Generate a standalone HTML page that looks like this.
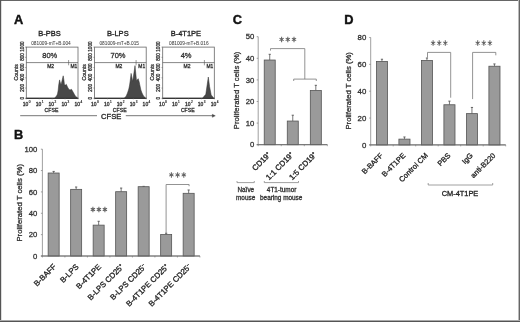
<!DOCTYPE html>
<html><head><meta charset="utf-8"><style>
html,body{margin:0;padding:0;background:#fff;}
body{width:520px;height:322px;overflow:hidden;position:relative;}
svg{position:absolute;left:0;top:0;will-change:transform;}
text{font-family:"Liberation Sans", sans-serif;}
</style></head><body>
<svg width="520" height="322" viewBox="0 0 520 322" font-family='"Liberation Sans", sans-serif'>
<rect x="0" y="0" width="520" height="322" fill="#fff"/>
<text x="13.9" y="23.6" font-size="12.8" text-anchor="start" font-weight="bold" fill="#111" stroke="#111" stroke-width="0.4">A</text>
<text x="14.0" y="139.2" font-size="12.8" text-anchor="start" font-weight="bold" fill="#111" stroke="#111" stroke-width="0.4">B</text>
<text x="232.7" y="23.9" font-size="12.8" text-anchor="start" font-weight="bold" fill="#111" stroke="#111" stroke-width="0.4">C</text>
<text x="344.3" y="23.9" font-size="12.8" text-anchor="start" font-weight="bold" fill="#111" stroke="#111" stroke-width="0.4">D</text>
<path d="M26.3,98.3 L55.1,98.3 L55.1,97.6 L56.5,96 L57.5,94 L58.2,90 L58.7,85 L59.2,82 L59.6,79.9 L60.4,83 L61,85 L62.2,80 L63.2,75.8 L63.9,80 L64.5,85 L65.5,85 L66.3,84.3 L67.5,87 L68.8,89.3 L70,90 L71.5,89.3 L72.5,91 L73.4,92.6 L74.6,94.8 L75.7,96.5 L77.3,97.6 L77.3,98.3 Z" stroke="#333" stroke-width="0.5" fill="#484848"/>
<rect x="26.3" y="47.1" width="51.7" height="51.199999999999996" fill="none" stroke="#666" stroke-width="0.8"/>
<line x1="25.900000000000002" y1="98.3" x2="78.4" y2="98.3" stroke="#222" stroke-width="0.9"/>
<line x1="26.3" y1="62.6" x2="78.0" y2="62.6" stroke="#555" stroke-width="0.7"/>
<line x1="68.6" y1="60.0" x2="68.6" y2="65.3" stroke="#555" stroke-width="0.6"/>
<text x="49.55" y="36.3" font-size="7.5" text-anchor="middle" font-weight="normal" fill="#222" stroke="#222" stroke-width="0.3">B-PBS</text>
<text x="50.949999999999996" y="45.3" font-size="4.75" text-anchor="middle" font-weight="normal" fill="#444" stroke="#444" stroke-width="0.05">081009-mT+B.004</text>
<text x="49.75" y="57.6" font-size="7.5" text-anchor="middle" font-weight="normal" fill="#333" stroke="#333" stroke-width="0.3">80%</text>
<text x="50.65" y="67.6" font-size="5.0" text-anchor="middle" font-weight="normal" fill="#333" stroke="#333" stroke-width="0.3">M2</text>
<text x="73.89999999999999" y="67.6" font-size="4.9" text-anchor="middle" font-weight="normal" fill="#333" stroke="#333" stroke-width="0.3">M1</text>
<text x="23.7" y="98.1" font-size="4.6" text-anchor="middle" font-weight="normal" fill="#333" stroke="#333" stroke-width="0.3" transform="rotate(-90 23.7 98.1)">0</text>
<line x1="25.1" y1="98.3" x2="26.3" y2="98.3" stroke="#666" stroke-width="0.6"/>
<text x="23.7" y="87.8" font-size="4.6" text-anchor="middle" font-weight="normal" fill="#333" stroke="#333" stroke-width="0.3" transform="rotate(-90 23.7 87.8)">200</text>
<line x1="25.1" y1="88.06" x2="26.3" y2="88.06" stroke="#666" stroke-width="0.6"/>
<text x="23.7" y="77.5" font-size="4.6" text-anchor="middle" font-weight="normal" fill="#333" stroke="#333" stroke-width="0.3" transform="rotate(-90 23.7 77.5)">400</text>
<line x1="25.1" y1="77.82" x2="26.3" y2="77.82" stroke="#666" stroke-width="0.6"/>
<text x="23.7" y="67.19999999999999" font-size="4.6" text-anchor="middle" font-weight="normal" fill="#333" stroke="#333" stroke-width="0.3" transform="rotate(-90 23.7 67.19999999999999)">600</text>
<line x1="25.1" y1="67.58" x2="26.3" y2="67.58" stroke="#666" stroke-width="0.6"/>
<text x="23.7" y="56.89999999999999" font-size="4.6" text-anchor="middle" font-weight="normal" fill="#333" stroke="#333" stroke-width="0.3" transform="rotate(-90 23.7 56.89999999999999)">800</text>
<line x1="25.1" y1="57.34" x2="26.3" y2="57.34" stroke="#666" stroke-width="0.6"/>
<text x="23.7" y="46.599999999999994" font-size="4.6" text-anchor="middle" font-weight="normal" fill="#333" stroke="#333" stroke-width="0.3" transform="rotate(-90 23.7 46.599999999999994)">1000</text>
<line x1="25.1" y1="47.1" x2="26.3" y2="47.1" stroke="#666" stroke-width="0.6"/>
<text x="17.9" y="72.3" font-size="5.2" text-anchor="middle" font-weight="normal" fill="#333" stroke="#333" stroke-width="0.3" transform="rotate(-90 17.9 72.3)">Counts</text>
<text x="25.5" y="106.3" font-size="5.0" text-anchor="middle" font-weight="normal" fill="#333" stroke="#333" stroke-width="0.3">10</text>
<text x="28.7" y="103.0" font-size="3.1" text-anchor="start" font-weight="normal" fill="#333" stroke="#333" stroke-width="0.2">0</text>
<line x1="26.3" y1="98.3" x2="26.3" y2="99.3" stroke="#666" stroke-width="0.6"/>
<text x="38.425000000000004" y="106.3" font-size="5.0" text-anchor="middle" font-weight="normal" fill="#333" stroke="#333" stroke-width="0.3">10</text>
<text x="41.625" y="103.0" font-size="3.1" text-anchor="start" font-weight="normal" fill="#333" stroke="#333" stroke-width="0.2">1</text>
<line x1="39.225" y1="98.3" x2="39.225" y2="99.3" stroke="#666" stroke-width="0.6"/>
<text x="51.35000000000001" y="106.3" font-size="5.0" text-anchor="middle" font-weight="normal" fill="#333" stroke="#333" stroke-width="0.3">10</text>
<text x="54.550000000000004" y="103.0" font-size="3.1" text-anchor="start" font-weight="normal" fill="#333" stroke="#333" stroke-width="0.2">2</text>
<line x1="52.150000000000006" y1="98.3" x2="52.150000000000006" y2="99.3" stroke="#666" stroke-width="0.6"/>
<text x="64.275" y="106.3" font-size="5.0" text-anchor="middle" font-weight="normal" fill="#333" stroke="#333" stroke-width="0.3">10</text>
<text x="67.47500000000001" y="103.0" font-size="3.1" text-anchor="start" font-weight="normal" fill="#333" stroke="#333" stroke-width="0.2">3</text>
<line x1="65.075" y1="98.3" x2="65.075" y2="99.3" stroke="#666" stroke-width="0.6"/>
<text x="77.2" y="106.3" font-size="5.0" text-anchor="middle" font-weight="normal" fill="#333" stroke="#333" stroke-width="0.3">10</text>
<text x="80.4" y="103.0" font-size="3.1" text-anchor="start" font-weight="normal" fill="#333" stroke="#333" stroke-width="0.2">4</text>
<line x1="78.0" y1="98.3" x2="78.0" y2="99.3" stroke="#666" stroke-width="0.6"/>
<text x="51.449999999999996" y="111.6" font-size="5.2" text-anchor="middle" font-weight="normal" fill="#333" stroke="#333" stroke-width="0.3">CFSE</text>
<path d="M94.6,98.3 L124.5,98.3 L124.5,97.8 L126,96.5 L127.5,93 L128.8,89 L129.6,85 L130.3,80 L131.1,73.4 L132.7,81.5 L135,65.6 L136.5,80.8 L138.2,78.7 L139.2,82 L139.8,85 L140.9,90 L142,93 L143.5,96 L145.4,97.8 L145.4,98.3 Z" stroke="#333" stroke-width="0.5" fill="#484848"/>
<rect x="94.6" y="47.1" width="51.599999999999994" height="51.199999999999996" fill="none" stroke="#666" stroke-width="0.8"/>
<line x1="94.19999999999999" y1="98.3" x2="146.6" y2="98.3" stroke="#222" stroke-width="0.9"/>
<line x1="94.6" y1="62.6" x2="146.2" y2="62.6" stroke="#555" stroke-width="0.7"/>
<line x1="136.1" y1="60.0" x2="136.1" y2="65.3" stroke="#555" stroke-width="0.6"/>
<text x="117.8" y="36.3" font-size="7.5" text-anchor="middle" font-weight="normal" fill="#222" stroke="#222" stroke-width="0.3">B-LPS</text>
<text x="119.19999999999999" y="45.3" font-size="4.75" text-anchor="middle" font-weight="normal" fill="#444" stroke="#444" stroke-width="0.05">081009-mT+B.015</text>
<text x="117.99999999999999" y="57.6" font-size="7.5" text-anchor="middle" font-weight="normal" fill="#333" stroke="#333" stroke-width="0.3">70%</text>
<text x="118.89999999999999" y="67.6" font-size="5.0" text-anchor="middle" font-weight="normal" fill="#333" stroke="#333" stroke-width="0.3">M2</text>
<text x="141.74999999999997" y="67.6" font-size="4.9" text-anchor="middle" font-weight="normal" fill="#333" stroke="#333" stroke-width="0.3">M1</text>
<text x="92.0" y="98.1" font-size="4.6" text-anchor="middle" font-weight="normal" fill="#333" stroke="#333" stroke-width="0.3" transform="rotate(-90 92.0 98.1)">0</text>
<line x1="93.39999999999999" y1="98.3" x2="94.6" y2="98.3" stroke="#666" stroke-width="0.6"/>
<text x="92.0" y="87.8" font-size="4.6" text-anchor="middle" font-weight="normal" fill="#333" stroke="#333" stroke-width="0.3" transform="rotate(-90 92.0 87.8)">200</text>
<line x1="93.39999999999999" y1="88.06" x2="94.6" y2="88.06" stroke="#666" stroke-width="0.6"/>
<text x="92.0" y="77.5" font-size="4.6" text-anchor="middle" font-weight="normal" fill="#333" stroke="#333" stroke-width="0.3" transform="rotate(-90 92.0 77.5)">400</text>
<line x1="93.39999999999999" y1="77.82" x2="94.6" y2="77.82" stroke="#666" stroke-width="0.6"/>
<text x="92.0" y="67.19999999999999" font-size="4.6" text-anchor="middle" font-weight="normal" fill="#333" stroke="#333" stroke-width="0.3" transform="rotate(-90 92.0 67.19999999999999)">600</text>
<line x1="93.39999999999999" y1="67.58" x2="94.6" y2="67.58" stroke="#666" stroke-width="0.6"/>
<text x="92.0" y="56.89999999999999" font-size="4.6" text-anchor="middle" font-weight="normal" fill="#333" stroke="#333" stroke-width="0.3" transform="rotate(-90 92.0 56.89999999999999)">800</text>
<line x1="93.39999999999999" y1="57.34" x2="94.6" y2="57.34" stroke="#666" stroke-width="0.6"/>
<text x="92.0" y="46.599999999999994" font-size="4.6" text-anchor="middle" font-weight="normal" fill="#333" stroke="#333" stroke-width="0.3" transform="rotate(-90 92.0 46.599999999999994)">1000</text>
<line x1="93.39999999999999" y1="47.1" x2="94.6" y2="47.1" stroke="#666" stroke-width="0.6"/>
<text x="86.19999999999999" y="72.3" font-size="5.2" text-anchor="middle" font-weight="normal" fill="#333" stroke="#333" stroke-width="0.3" transform="rotate(-90 86.19999999999999 72.3)">Counts</text>
<text x="93.8" y="106.3" font-size="5.0" text-anchor="middle" font-weight="normal" fill="#333" stroke="#333" stroke-width="0.3">10</text>
<text x="97.0" y="103.0" font-size="3.1" text-anchor="start" font-weight="normal" fill="#333" stroke="#333" stroke-width="0.2">0</text>
<line x1="94.6" y1="98.3" x2="94.6" y2="99.3" stroke="#666" stroke-width="0.6"/>
<text x="106.7" y="106.3" font-size="5.0" text-anchor="middle" font-weight="normal" fill="#333" stroke="#333" stroke-width="0.3">10</text>
<text x="109.9" y="103.0" font-size="3.1" text-anchor="start" font-weight="normal" fill="#333" stroke="#333" stroke-width="0.2">1</text>
<line x1="107.5" y1="98.3" x2="107.5" y2="99.3" stroke="#666" stroke-width="0.6"/>
<text x="119.6" y="106.3" font-size="5.0" text-anchor="middle" font-weight="normal" fill="#333" stroke="#333" stroke-width="0.3">10</text>
<text x="122.8" y="103.0" font-size="3.1" text-anchor="start" font-weight="normal" fill="#333" stroke="#333" stroke-width="0.2">2</text>
<line x1="120.39999999999999" y1="98.3" x2="120.39999999999999" y2="99.3" stroke="#666" stroke-width="0.6"/>
<text x="132.49999999999997" y="106.3" font-size="5.0" text-anchor="middle" font-weight="normal" fill="#333" stroke="#333" stroke-width="0.3">10</text>
<text x="135.7" y="103.0" font-size="3.1" text-anchor="start" font-weight="normal" fill="#333" stroke="#333" stroke-width="0.2">3</text>
<line x1="133.29999999999998" y1="98.3" x2="133.29999999999998" y2="99.3" stroke="#666" stroke-width="0.6"/>
<text x="145.39999999999998" y="106.3" font-size="5.0" text-anchor="middle" font-weight="normal" fill="#333" stroke="#333" stroke-width="0.3">10</text>
<text x="148.6" y="103.0" font-size="3.1" text-anchor="start" font-weight="normal" fill="#333" stroke="#333" stroke-width="0.2">4</text>
<line x1="146.2" y1="98.3" x2="146.2" y2="99.3" stroke="#666" stroke-width="0.6"/>
<text x="119.69999999999999" y="111.6" font-size="5.2" text-anchor="middle" font-weight="normal" fill="#333" stroke="#333" stroke-width="0.3">CFSE</text>
<path d="M162.7,98.3 L203,98.3 L203,97.6 L205.8,94.3 L207.2,84.6 L208.3,77 L209.6,86.7 L211.2,94.9 L213.4,97.8 L213.4,98.3 Z" stroke="#333" stroke-width="0.5" fill="#484848"/>
<rect x="162.7" y="47.1" width="51.60000000000002" height="51.199999999999996" fill="none" stroke="#666" stroke-width="0.8"/>
<line x1="162.29999999999998" y1="98.3" x2="214.70000000000002" y2="98.3" stroke="#222" stroke-width="0.9"/>
<line x1="162.7" y1="62.6" x2="214.3" y2="62.6" stroke="#555" stroke-width="0.7"/>
<line x1="204.4" y1="60.0" x2="204.4" y2="65.3" stroke="#555" stroke-width="0.6"/>
<text x="185.9" y="36.3" font-size="7.5" text-anchor="middle" font-weight="normal" fill="#222" stroke="#222" stroke-width="0.3">B-4T1PE</text>
<text x="188.8" y="45.3" font-size="4.75" text-anchor="middle" font-weight="normal" fill="#444" stroke="#444" stroke-width="0.05">081009-mT+B.016</text>
<text x="186.1" y="57.6" font-size="7.5" text-anchor="middle" font-weight="normal" fill="#333" stroke="#333" stroke-width="0.3">4%</text>
<text x="187.0" y="67.6" font-size="5.0" text-anchor="middle" font-weight="normal" fill="#333" stroke="#333" stroke-width="0.3">M2</text>
<text x="209.95000000000002" y="67.6" font-size="4.9" text-anchor="middle" font-weight="normal" fill="#333" stroke="#333" stroke-width="0.3">M1</text>
<text x="160.1" y="98.1" font-size="4.6" text-anchor="middle" font-weight="normal" fill="#333" stroke="#333" stroke-width="0.3" transform="rotate(-90 160.1 98.1)">0</text>
<line x1="161.5" y1="98.3" x2="162.7" y2="98.3" stroke="#666" stroke-width="0.6"/>
<text x="160.1" y="87.8" font-size="4.6" text-anchor="middle" font-weight="normal" fill="#333" stroke="#333" stroke-width="0.3" transform="rotate(-90 160.1 87.8)">200</text>
<line x1="161.5" y1="88.06" x2="162.7" y2="88.06" stroke="#666" stroke-width="0.6"/>
<text x="160.1" y="77.5" font-size="4.6" text-anchor="middle" font-weight="normal" fill="#333" stroke="#333" stroke-width="0.3" transform="rotate(-90 160.1 77.5)">400</text>
<line x1="161.5" y1="77.82" x2="162.7" y2="77.82" stroke="#666" stroke-width="0.6"/>
<text x="160.1" y="67.19999999999999" font-size="4.6" text-anchor="middle" font-weight="normal" fill="#333" stroke="#333" stroke-width="0.3" transform="rotate(-90 160.1 67.19999999999999)">600</text>
<line x1="161.5" y1="67.58" x2="162.7" y2="67.58" stroke="#666" stroke-width="0.6"/>
<text x="160.1" y="56.89999999999999" font-size="4.6" text-anchor="middle" font-weight="normal" fill="#333" stroke="#333" stroke-width="0.3" transform="rotate(-90 160.1 56.89999999999999)">800</text>
<line x1="161.5" y1="57.34" x2="162.7" y2="57.34" stroke="#666" stroke-width="0.6"/>
<text x="160.1" y="46.599999999999994" font-size="4.6" text-anchor="middle" font-weight="normal" fill="#333" stroke="#333" stroke-width="0.3" transform="rotate(-90 160.1 46.599999999999994)">1000</text>
<line x1="161.5" y1="47.1" x2="162.7" y2="47.1" stroke="#666" stroke-width="0.6"/>
<text x="154.29999999999998" y="72.3" font-size="5.2" text-anchor="middle" font-weight="normal" fill="#333" stroke="#333" stroke-width="0.3" transform="rotate(-90 154.29999999999998 72.3)">Counts</text>
<text x="161.89999999999998" y="106.3" font-size="5.0" text-anchor="middle" font-weight="normal" fill="#333" stroke="#333" stroke-width="0.3">10</text>
<text x="165.1" y="103.0" font-size="3.1" text-anchor="start" font-weight="normal" fill="#333" stroke="#333" stroke-width="0.2">0</text>
<line x1="162.7" y1="98.3" x2="162.7" y2="99.3" stroke="#666" stroke-width="0.6"/>
<text x="174.79999999999998" y="106.3" font-size="5.0" text-anchor="middle" font-weight="normal" fill="#333" stroke="#333" stroke-width="0.3">10</text>
<text x="178.0" y="103.0" font-size="3.1" text-anchor="start" font-weight="normal" fill="#333" stroke="#333" stroke-width="0.2">1</text>
<line x1="175.6" y1="98.3" x2="175.6" y2="99.3" stroke="#666" stroke-width="0.6"/>
<text x="187.7" y="106.3" font-size="5.0" text-anchor="middle" font-weight="normal" fill="#333" stroke="#333" stroke-width="0.3">10</text>
<text x="190.9" y="103.0" font-size="3.1" text-anchor="start" font-weight="normal" fill="#333" stroke="#333" stroke-width="0.2">2</text>
<line x1="188.5" y1="98.3" x2="188.5" y2="99.3" stroke="#666" stroke-width="0.6"/>
<text x="200.6" y="106.3" font-size="5.0" text-anchor="middle" font-weight="normal" fill="#333" stroke="#333" stroke-width="0.3">10</text>
<text x="203.8" y="103.0" font-size="3.1" text-anchor="start" font-weight="normal" fill="#333" stroke="#333" stroke-width="0.2">3</text>
<line x1="201.4" y1="98.3" x2="201.4" y2="99.3" stroke="#666" stroke-width="0.6"/>
<text x="213.5" y="106.3" font-size="5.0" text-anchor="middle" font-weight="normal" fill="#333" stroke="#333" stroke-width="0.3">10</text>
<text x="216.70000000000002" y="103.0" font-size="3.1" text-anchor="start" font-weight="normal" fill="#333" stroke="#333" stroke-width="0.2">4</text>
<line x1="214.3" y1="98.3" x2="214.3" y2="99.3" stroke="#666" stroke-width="0.6"/>
<text x="187.8" y="111.6" font-size="5.2" text-anchor="middle" font-weight="normal" fill="#333" stroke="#333" stroke-width="0.3">CFSE</text>
<line x1="20.2" y1="115.7" x2="97.0" y2="115.7" stroke="#777" stroke-width="1"/>
<line x1="125.8" y1="115.7" x2="213.0" y2="115.7" stroke="#777" stroke-width="1"/>
<path d="M212.3,114.3 L215.3,115.8 L212.3,117.3 Z" stroke="#444" stroke-width="0.4" fill="#444"/>
<text x="111.2" y="118.8" font-size="7.6" text-anchor="middle" font-weight="normal" fill="#222" stroke="#222" stroke-width="0.3">CFSE</text>
<line x1="42.4" y1="149.2" x2="42.4" y2="256.0" stroke="#888" stroke-width="0.8"/>
<line x1="42.4" y1="256.0" x2="199.9" y2="256.0" stroke="#888" stroke-width="0.8"/>
<line x1="40.9" y1="256.0" x2="42.4" y2="256.0" stroke="#888" stroke-width="0.8"/>
<text x="37.4" y="258.6" font-size="7.7" text-anchor="end" font-weight="normal" fill="#333" stroke="#333" stroke-width="0.3">0</text>
<line x1="40.9" y1="234.64" x2="42.4" y2="234.64" stroke="#888" stroke-width="0.8"/>
<text x="37.4" y="237.23999999999998" font-size="7.7" text-anchor="end" font-weight="normal" fill="#333" stroke="#333" stroke-width="0.3">20</text>
<line x1="40.9" y1="213.28" x2="42.4" y2="213.28" stroke="#888" stroke-width="0.8"/>
<text x="37.4" y="215.88" font-size="7.7" text-anchor="end" font-weight="normal" fill="#333" stroke="#333" stroke-width="0.3">40</text>
<line x1="40.9" y1="191.92000000000002" x2="42.4" y2="191.92000000000002" stroke="#888" stroke-width="0.8"/>
<text x="37.4" y="194.52" font-size="7.7" text-anchor="end" font-weight="normal" fill="#333" stroke="#333" stroke-width="0.3">60</text>
<line x1="40.9" y1="170.56" x2="42.4" y2="170.56" stroke="#888" stroke-width="0.8"/>
<text x="37.4" y="173.16" font-size="7.7" text-anchor="end" font-weight="normal" fill="#333" stroke="#333" stroke-width="0.3">80</text>
<line x1="40.9" y1="149.2" x2="42.4" y2="149.2" stroke="#888" stroke-width="0.8"/>
<text x="37.4" y="151.79999999999998" font-size="7.7" text-anchor="end" font-weight="normal" fill="#333" stroke="#333" stroke-width="0.3">100</text>
<line x1="42.4" y1="256.0" x2="42.4" y2="257.5" stroke="#888" stroke-width="0.7"/>
<line x1="64.9" y1="256.0" x2="64.9" y2="257.5" stroke="#888" stroke-width="0.7"/>
<line x1="87.4" y1="256.0" x2="87.4" y2="257.5" stroke="#888" stroke-width="0.7"/>
<line x1="109.9" y1="256.0" x2="109.9" y2="257.5" stroke="#888" stroke-width="0.7"/>
<line x1="132.4" y1="256.0" x2="132.4" y2="257.5" stroke="#888" stroke-width="0.7"/>
<line x1="154.9" y1="256.0" x2="154.9" y2="257.5" stroke="#888" stroke-width="0.7"/>
<line x1="177.4" y1="256.0" x2="177.4" y2="257.5" stroke="#888" stroke-width="0.7"/>
<line x1="199.9" y1="256.0" x2="199.9" y2="257.5" stroke="#888" stroke-width="0.7"/>
<line x1="53.65" y1="171.4144" x2="53.65" y2="173.01639999999998" stroke="#555" stroke-width="0.8"/>
<line x1="52.55" y1="171.4144" x2="54.75" y2="171.4144" stroke="#555" stroke-width="0.9"/>
<rect x="48.15" y="173.01639999999998" width="11.0" height="82.98360000000002" fill="#9a9a9a" stroke="#555" stroke-width="0.8"/>
<line x1="76.15" y1="187.0072" x2="76.15" y2="189.3568" stroke="#555" stroke-width="0.8"/>
<line x1="75.05000000000001" y1="187.0072" x2="77.25" y2="187.0072" stroke="#555" stroke-width="0.9"/>
<rect x="70.65" y="189.3568" width="11.0" height="66.64320000000001" fill="#9a9a9a" stroke="#555" stroke-width="0.8"/>
<line x1="98.65" y1="221.29" x2="98.65" y2="225.13479999999998" stroke="#555" stroke-width="0.8"/>
<line x1="97.55000000000001" y1="221.29" x2="99.75" y2="221.29" stroke="#555" stroke-width="0.9"/>
<rect x="93.15" y="225.13479999999998" width="11.0" height="30.865200000000016" fill="#9a9a9a" stroke="#555" stroke-width="0.8"/>
<line x1="121.15" y1="188.0752" x2="121.15" y2="191.70639999999997" stroke="#555" stroke-width="0.8"/>
<line x1="120.05000000000001" y1="188.0752" x2="122.25" y2="188.0752" stroke="#555" stroke-width="0.9"/>
<rect x="115.65" y="191.70639999999997" width="11.0" height="64.29360000000003" fill="#9a9a9a" stroke="#555" stroke-width="0.8"/>
<line x1="143.65" y1="186.3664" x2="143.65" y2="186.6868" stroke="#555" stroke-width="0.8"/>
<line x1="142.55" y1="186.3664" x2="144.75" y2="186.3664" stroke="#555" stroke-width="0.9"/>
<rect x="138.15" y="186.6868" width="11.0" height="69.3132" fill="#9a9a9a" stroke="#555" stroke-width="0.8"/>
<line x1="166.15" y1="233.2516" x2="166.15" y2="234.5332" stroke="#555" stroke-width="0.8"/>
<line x1="165.05" y1="233.2516" x2="167.25" y2="233.2516" stroke="#555" stroke-width="0.9"/>
<rect x="160.65" y="234.5332" width="11.0" height="21.466800000000006" fill="#9a9a9a" stroke="#555" stroke-width="0.8"/>
<line x1="188.65" y1="189.9976" x2="188.65" y2="193.3084" stroke="#555" stroke-width="0.8"/>
<line x1="187.55" y1="189.9976" x2="189.75" y2="189.9976" stroke="#555" stroke-width="0.9"/>
<rect x="183.15" y="193.3084" width="11.0" height="62.691599999999994" fill="#9a9a9a" stroke="#555" stroke-width="0.8"/>
<line x1="40.9" y1="256.0" x2="199.9" y2="256.0" stroke="#666" stroke-width="0.9"/>
<text x="22.0" y="202.8" font-size="7.7" text-anchor="middle" font-weight="normal" fill="#333" stroke="#333" stroke-width="0.3" transform="rotate(-90 22.0 202.8)">Proliferated T cells (%)</text>
<text x="56.65" y="267.2" font-size="7.8" text-anchor="end" font-weight="normal" fill="#222" stroke="#222" stroke-width="0.3" transform="rotate(-45 56.65 267.2)">B-BAFF</text>
<text x="79.15" y="267.2" font-size="7.8" text-anchor="end" font-weight="normal" fill="#222" stroke="#222" stroke-width="0.3" transform="rotate(-45 79.15 267.2)">B-LPS</text>
<text x="101.65" y="267.2" font-size="7.8" text-anchor="end" font-weight="normal" fill="#222" stroke="#222" stroke-width="0.3" transform="rotate(-45 101.65 267.2)">B-4T1PE</text>
<text x="124.15" y="267.2" font-size="7.8" text-anchor="end" font-weight="normal" fill="#222" stroke="#222" stroke-width="0.3" transform="rotate(-45 124.15 267.2)">B-LPS CD25<tspan font-size="4.5" dy="-3">+</tspan></text>
<text x="146.65" y="267.2" font-size="7.8" text-anchor="end" font-weight="normal" fill="#222" stroke="#222" stroke-width="0.3" transform="rotate(-45 146.65 267.2)">B-LPS CD25<tspan font-size="4.5" dy="-3">&#8211;</tspan></text>
<text x="169.15" y="267.2" font-size="7.8" text-anchor="end" font-weight="normal" fill="#222" stroke="#222" stroke-width="0.3" transform="rotate(-45 169.15 267.2)">B-4T1PE CD25<tspan font-size="4.5" dy="-3">+</tspan></text>
<text x="191.65" y="267.2" font-size="7.8" text-anchor="end" font-weight="normal" fill="#222" stroke="#222" stroke-width="0.3" transform="rotate(-45 191.65 267.2)">B-4T1PE CD25<tspan font-size="4.5" dy="-3">&#8211;</tspan></text>
<path d="M92.90,206.75 L92.90,212.25 M90.76,208.26 L95.04,210.74 M95.04,208.26 L90.76,210.74 " stroke="#666" stroke-width="1.05" fill="none"/>
<circle cx="92.90" cy="209.50" r="1.2" fill="#666"/>
<path d="M98.90,206.75 L98.90,212.25 M96.76,208.26 L101.04,210.74 M101.04,208.26 L96.76,210.74 " stroke="#666" stroke-width="1.05" fill="none"/>
<circle cx="98.90" cy="209.50" r="1.2" fill="#666"/>
<path d="M104.90,206.75 L104.90,212.25 M102.76,208.26 L107.04,210.74 M107.04,208.26 L102.76,210.74 " stroke="#666" stroke-width="1.05" fill="none"/>
<circle cx="104.90" cy="209.50" r="1.2" fill="#666"/>
<path d="M171.40,172.15 L171.40,177.65 M169.26,173.66 L173.54,176.14 M173.54,173.66 L169.26,176.14 " stroke="#666" stroke-width="1.05" fill="none"/>
<circle cx="171.40" cy="174.90" r="1.2" fill="#666"/>
<path d="M177.60,172.15 L177.60,177.65 M175.46,173.66 L179.74,176.14 M179.74,173.66 L175.46,176.14 " stroke="#666" stroke-width="1.05" fill="none"/>
<circle cx="177.60" cy="174.90" r="1.2" fill="#666"/>
<path d="M183.80,172.15 L183.80,177.65 M181.66,173.66 L185.94,176.14 M185.94,173.66 L181.66,176.14 " stroke="#666" stroke-width="1.05" fill="none"/>
<circle cx="183.80" cy="174.90" r="1.2" fill="#666"/>
<path d="M166.1,233.0 L166.1,184.5 L189.1,184.5 L189.1,186.2" stroke="#777" stroke-width="0.8" fill="none"/>
<line x1="258.2" y1="36.7" x2="258.2" y2="144.7" stroke="#888" stroke-width="0.8"/>
<line x1="258.2" y1="144.7" x2="327.35" y2="144.7" stroke="#888" stroke-width="0.8"/>
<line x1="256.7" y1="144.7" x2="258.2" y2="144.7" stroke="#888" stroke-width="0.8"/>
<text x="254.3" y="147.29999999999998" font-size="7.7" text-anchor="end" font-weight="normal" fill="#333" stroke="#333" stroke-width="0.3">0</text>
<line x1="256.7" y1="123.1" x2="258.2" y2="123.1" stroke="#888" stroke-width="0.8"/>
<text x="254.3" y="125.69999999999999" font-size="7.7" text-anchor="end" font-weight="normal" fill="#333" stroke="#333" stroke-width="0.3">10</text>
<line x1="256.7" y1="101.5" x2="258.2" y2="101.5" stroke="#888" stroke-width="0.8"/>
<text x="254.3" y="104.1" font-size="7.7" text-anchor="end" font-weight="normal" fill="#333" stroke="#333" stroke-width="0.3">20</text>
<line x1="256.7" y1="79.89999999999999" x2="258.2" y2="79.89999999999999" stroke="#888" stroke-width="0.8"/>
<text x="254.3" y="82.49999999999999" font-size="7.7" text-anchor="end" font-weight="normal" fill="#333" stroke="#333" stroke-width="0.3">30</text>
<line x1="256.7" y1="58.3" x2="258.2" y2="58.3" stroke="#888" stroke-width="0.8"/>
<text x="254.3" y="60.9" font-size="7.7" text-anchor="end" font-weight="normal" fill="#333" stroke="#333" stroke-width="0.3">40</text>
<line x1="256.7" y1="36.7" x2="258.2" y2="36.7" stroke="#888" stroke-width="0.8"/>
<text x="254.3" y="39.300000000000004" font-size="7.7" text-anchor="end" font-weight="normal" fill="#333" stroke="#333" stroke-width="0.3">50</text>
<line x1="258.2" y1="144.7" x2="258.2" y2="146.2" stroke="#888" stroke-width="0.7"/>
<line x1="281.25" y1="144.7" x2="281.25" y2="146.2" stroke="#888" stroke-width="0.7"/>
<line x1="304.3" y1="144.7" x2="304.3" y2="146.2" stroke="#888" stroke-width="0.7"/>
<line x1="327.35" y1="144.7" x2="327.35" y2="146.2" stroke="#888" stroke-width="0.7"/>
<line x1="269.72499999999997" y1="54.304" x2="269.72499999999997" y2="60.02799999999999" stroke="#555" stroke-width="0.8"/>
<line x1="268.62499999999994" y1="54.304" x2="270.825" y2="54.304" stroke="#555" stroke-width="0.9"/>
<rect x="264.22499999999997" y="60.02799999999999" width="11.0" height="84.672" fill="#9a9a9a" stroke="#555" stroke-width="0.8"/>
<line x1="292.775" y1="115.216" x2="292.775" y2="121.048" stroke="#555" stroke-width="0.8"/>
<line x1="291.67499999999995" y1="115.216" x2="293.875" y2="115.216" stroke="#555" stroke-width="0.9"/>
<rect x="287.275" y="121.048" width="11.0" height="23.651999999999987" fill="#9a9a9a" stroke="#555" stroke-width="0.8"/>
<line x1="315.825" y1="85.3" x2="315.825" y2="90.484" stroke="#555" stroke-width="0.8"/>
<line x1="314.72499999999997" y1="85.3" x2="316.925" y2="85.3" stroke="#555" stroke-width="0.9"/>
<rect x="310.325" y="90.484" width="11.0" height="54.215999999999994" fill="#9a9a9a" stroke="#555" stroke-width="0.8"/>
<line x1="256.7" y1="144.7" x2="327.35" y2="144.7" stroke="#666" stroke-width="0.9"/>
<text x="238.6" y="90.4" font-size="7.7" text-anchor="middle" font-weight="normal" fill="#333" stroke="#333" stroke-width="0.3" transform="rotate(-90 238.6 90.4)">Proliferated T cells (%)</text>
<text x="271.22499999999997" y="155.3" font-size="7.8" text-anchor="end" font-weight="normal" fill="#222" stroke="#222" stroke-width="0.3" transform="rotate(-45 271.22499999999997 155.3)">CD19<tspan font-size="4.5" dy="-3">+</tspan></text>
<text x="294.275" y="155.3" font-size="7.8" text-anchor="end" font-weight="normal" fill="#222" stroke="#222" stroke-width="0.3" transform="rotate(-45 294.275 155.3)">1:1 CD19<tspan font-size="4.5" dy="-3">+</tspan></text>
<text x="317.325" y="155.3" font-size="7.8" text-anchor="end" font-weight="normal" fill="#222" stroke="#222" stroke-width="0.3" transform="rotate(-45 317.325 155.3)">1:5 CD19<tspan font-size="4.5" dy="-3">+</tspan></text>
<path d="M281.60,36.65 L281.60,42.15 M279.46,38.16 L283.74,40.64 M283.74,38.16 L279.46,40.64 " stroke="#666" stroke-width="1.05" fill="none"/>
<circle cx="281.60" cy="39.40" r="1.2" fill="#666"/>
<path d="M287.80,36.65 L287.80,42.15 M285.66,38.16 L289.94,40.64 M289.94,38.16 L285.66,40.64 " stroke="#666" stroke-width="1.05" fill="none"/>
<circle cx="287.80" cy="39.40" r="1.2" fill="#666"/>
<path d="M294.00,36.65 L294.00,42.15 M291.86,38.16 L296.14,40.64 M296.14,38.16 L291.86,40.64 " stroke="#666" stroke-width="1.05" fill="none"/>
<circle cx="294.00" cy="39.40" r="1.2" fill="#666"/>
<path d="M270.5,50.6 L270.5,48.6 L304.8,48.6 L304.8,79.1" stroke="#777" stroke-width="0.8" fill="none"/>
<path d="M293.7,81.0 L293.7,79.1 L316.3,79.1 L316.3,81.0" stroke="#777" stroke-width="0.8" fill="none"/>
<path d="M237.0,181.0 L237.0,182.6 L254.3,182.6 L254.3,181.0" stroke="#888" stroke-width="0.8" fill="none"/>
<path d="M264.3,181.0 L264.3,182.6 L298.5,182.6 L298.5,181.0" stroke="#888" stroke-width="0.8" fill="none"/>
<text x="245.8" y="192.2" font-size="6.4" text-anchor="middle" font-weight="normal" fill="#333" stroke="#333" stroke-width="0.3">Na&#239;ve</text>
<text x="245.6" y="199.6" font-size="6.4" text-anchor="middle" font-weight="normal" fill="#333" stroke="#333" stroke-width="0.3">mouse</text>
<text x="281.6" y="192.2" font-size="6.4" text-anchor="middle" font-weight="normal" fill="#333" stroke="#333" stroke-width="0.3">4T1-tumor</text>
<text x="281.2" y="199.6" font-size="6.4" text-anchor="middle" font-weight="normal" fill="#333" stroke="#333" stroke-width="0.3">bearing mouse</text>
<line x1="370.7" y1="37.5" x2="370.7" y2="144.9" stroke="#888" stroke-width="0.8"/>
<line x1="370.7" y1="144.9" x2="505.7" y2="144.9" stroke="#888" stroke-width="0.8"/>
<line x1="369.2" y1="144.9" x2="370.7" y2="144.9" stroke="#888" stroke-width="0.8"/>
<text x="366.3" y="147.5" font-size="7.8" text-anchor="end" font-weight="normal" fill="#333" stroke="#333" stroke-width="0.3">0</text>
<line x1="369.2" y1="118.05000000000001" x2="370.7" y2="118.05000000000001" stroke="#888" stroke-width="0.8"/>
<text x="366.3" y="120.65" font-size="7.8" text-anchor="end" font-weight="normal" fill="#333" stroke="#333" stroke-width="0.3">20</text>
<line x1="369.2" y1="91.2" x2="370.7" y2="91.2" stroke="#888" stroke-width="0.8"/>
<text x="366.3" y="93.8" font-size="7.8" text-anchor="end" font-weight="normal" fill="#333" stroke="#333" stroke-width="0.3">40</text>
<line x1="369.2" y1="64.35000000000001" x2="370.7" y2="64.35000000000001" stroke="#888" stroke-width="0.8"/>
<text x="366.3" y="66.95" font-size="7.8" text-anchor="end" font-weight="normal" fill="#333" stroke="#333" stroke-width="0.3">60</text>
<line x1="369.2" y1="37.5" x2="370.7" y2="37.5" stroke="#888" stroke-width="0.8"/>
<text x="366.3" y="40.1" font-size="7.8" text-anchor="end" font-weight="normal" fill="#333" stroke="#333" stroke-width="0.3">80</text>
<line x1="370.7" y1="144.9" x2="370.7" y2="146.4" stroke="#888" stroke-width="0.7"/>
<line x1="393.2" y1="144.9" x2="393.2" y2="146.4" stroke="#888" stroke-width="0.7"/>
<line x1="415.7" y1="144.9" x2="415.7" y2="146.4" stroke="#888" stroke-width="0.7"/>
<line x1="438.2" y1="144.9" x2="438.2" y2="146.4" stroke="#888" stroke-width="0.7"/>
<line x1="460.7" y1="144.9" x2="460.7" y2="146.4" stroke="#888" stroke-width="0.7"/>
<line x1="483.2" y1="144.9" x2="483.2" y2="146.4" stroke="#888" stroke-width="0.7"/>
<line x1="505.7" y1="144.9" x2="505.7" y2="146.4" stroke="#888" stroke-width="0.7"/>
<line x1="381.95" y1="59.24850000000001" x2="381.95" y2="61.3965" stroke="#555" stroke-width="0.8"/>
<line x1="380.84999999999997" y1="59.24850000000001" x2="383.05" y2="59.24850000000001" stroke="#555" stroke-width="0.9"/>
<rect x="376.4" y="61.3965" width="11.1" height="83.5035" fill="#9a9a9a" stroke="#555" stroke-width="0.8"/>
<line x1="404.45" y1="136.97925" x2="404.45" y2="139.12725" stroke="#555" stroke-width="0.8"/>
<line x1="403.34999999999997" y1="136.97925" x2="405.55" y2="136.97925" stroke="#555" stroke-width="0.9"/>
<rect x="398.9" y="139.12725" width="11.1" height="5.772750000000002" fill="#9a9a9a" stroke="#555" stroke-width="0.8"/>
<line x1="426.95" y1="58.04025" x2="426.95" y2="60.45675" stroke="#555" stroke-width="0.8"/>
<line x1="425.84999999999997" y1="58.04025" x2="428.05" y2="58.04025" stroke="#555" stroke-width="0.9"/>
<rect x="421.4" y="60.45675" width="11.1" height="84.44325" fill="#9a9a9a" stroke="#555" stroke-width="0.8"/>
<line x1="449.45" y1="101.1345" x2="449.45" y2="104.75925000000001" stroke="#555" stroke-width="0.8"/>
<line x1="448.34999999999997" y1="101.1345" x2="450.55" y2="101.1345" stroke="#555" stroke-width="0.9"/>
<rect x="443.9" y="104.75925000000001" width="11.1" height="40.14075" fill="#9a9a9a" stroke="#555" stroke-width="0.8"/>
<line x1="471.95" y1="107.44425000000001" x2="471.95" y2="113.61975000000001" stroke="#555" stroke-width="0.8"/>
<line x1="470.84999999999997" y1="107.44425000000001" x2="473.05" y2="107.44425000000001" stroke="#555" stroke-width="0.9"/>
<rect x="466.4" y="113.61975000000001" width="11.1" height="31.280249999999995" fill="#9a9a9a" stroke="#555" stroke-width="0.8"/>
<line x1="494.45" y1="63.94725000000001" x2="494.45" y2="66.2295" stroke="#555" stroke-width="0.8"/>
<line x1="493.34999999999997" y1="63.94725000000001" x2="495.55" y2="63.94725000000001" stroke="#555" stroke-width="0.9"/>
<rect x="488.9" y="66.2295" width="11.1" height="78.6705" fill="#9a9a9a" stroke="#555" stroke-width="0.8"/>
<line x1="369.2" y1="144.9" x2="505.7" y2="144.9" stroke="#666" stroke-width="0.9"/>
<text x="351.2" y="90.8" font-size="7.7" text-anchor="middle" font-weight="normal" fill="#333" stroke="#333" stroke-width="0.3" transform="rotate(-90 351.2 90.8)">Proliferated T cells (%)</text>
<text x="383.45" y="156.0" font-size="7.4" text-anchor="end" font-weight="normal" fill="#222" stroke="#222" stroke-width="0.3" transform="rotate(-45 383.45 156.0)">B-BAFF</text>
<text x="405.95" y="156.0" font-size="7.4" text-anchor="end" font-weight="normal" fill="#222" stroke="#222" stroke-width="0.3" transform="rotate(-45 405.95 156.0)">B-4T1PE</text>
<text x="428.45" y="156.0" font-size="7.4" text-anchor="end" font-weight="normal" fill="#222" stroke="#222" stroke-width="0.3" transform="rotate(-45 428.45 156.0)">Control CM</text>
<text x="450.95" y="156.0" font-size="7.4" text-anchor="end" font-weight="normal" fill="#222" stroke="#222" stroke-width="0.3" transform="rotate(-45 450.95 156.0)">PBS</text>
<text x="473.45" y="156.0" font-size="7.4" text-anchor="end" font-weight="normal" fill="#222" stroke="#222" stroke-width="0.3" transform="rotate(-45 473.45 156.0)">IgG</text>
<text x="495.95" y="156.0" font-size="7.4" text-anchor="end" font-weight="normal" fill="#222" stroke="#222" stroke-width="0.3" transform="rotate(-45 495.95 156.0)">anti-B220</text>
<path d="M433.10,40.35 L433.10,45.85 M430.96,41.86 L435.24,44.34 M435.24,41.86 L430.96,44.34 " stroke="#666" stroke-width="1.05" fill="none"/>
<circle cx="433.10" cy="43.10" r="1.2" fill="#666"/>
<path d="M439.20,40.35 L439.20,45.85 M437.06,41.86 L441.34,44.34 M441.34,41.86 L437.06,44.34 " stroke="#666" stroke-width="1.05" fill="none"/>
<circle cx="439.20" cy="43.10" r="1.2" fill="#666"/>
<path d="M445.30,40.35 L445.30,45.85 M443.16,41.86 L447.44,44.34 M447.44,41.86 L443.16,44.34 " stroke="#666" stroke-width="1.05" fill="none"/>
<circle cx="445.30" cy="43.10" r="1.2" fill="#666"/>
<path d="M477.70,40.35 L477.70,45.85 M475.56,41.86 L479.84,44.34 M479.84,41.86 L475.56,44.34 " stroke="#666" stroke-width="1.05" fill="none"/>
<circle cx="477.70" cy="43.10" r="1.2" fill="#666"/>
<path d="M483.80,40.35 L483.80,45.85 M481.66,41.86 L485.94,44.34 M485.94,41.86 L481.66,44.34 " stroke="#666" stroke-width="1.05" fill="none"/>
<circle cx="483.80" cy="43.10" r="1.2" fill="#666"/>
<path d="M489.90,40.35 L489.90,45.85 M487.76,41.86 L492.04,44.34 M492.04,41.86 L487.76,44.34 " stroke="#666" stroke-width="1.05" fill="none"/>
<circle cx="489.90" cy="43.10" r="1.2" fill="#666"/>
<path d="M427.5,57.6 L427.5,52.4 L450.7,52.4 L450.7,97.7" stroke="#777" stroke-width="0.8" fill="none"/>
<path d="M472.6,99.1 L472.6,52.4 L495.8,52.4 L495.8,55.3" stroke="#777" stroke-width="0.8" fill="none"/>
<path d="M428.2,183.0 L428.2,185.0 L492.7,185.0 L492.7,183.0" stroke="#888" stroke-width="0.8" fill="none"/>
<text x="460.0" y="195.8" font-size="7.4" text-anchor="middle" font-weight="normal" fill="#222" stroke="#222" stroke-width="0.3">CM-4T1PE</text>
<rect x="0" y="0" width="520" height="1" fill="#666"/>
<rect x="0" y="0" width="1.2" height="322" fill="#555"/>
<rect x="518" y="0" width="1" height="322" fill="#bbb"/>
<rect x="519" y="0" width="1" height="322" fill="#666"/>
<rect x="0" y="320" width="520" height="1" fill="#aaa"/>
<rect x="0" y="321" width="520" height="1" fill="#555"/>
</svg>
</body></html>
